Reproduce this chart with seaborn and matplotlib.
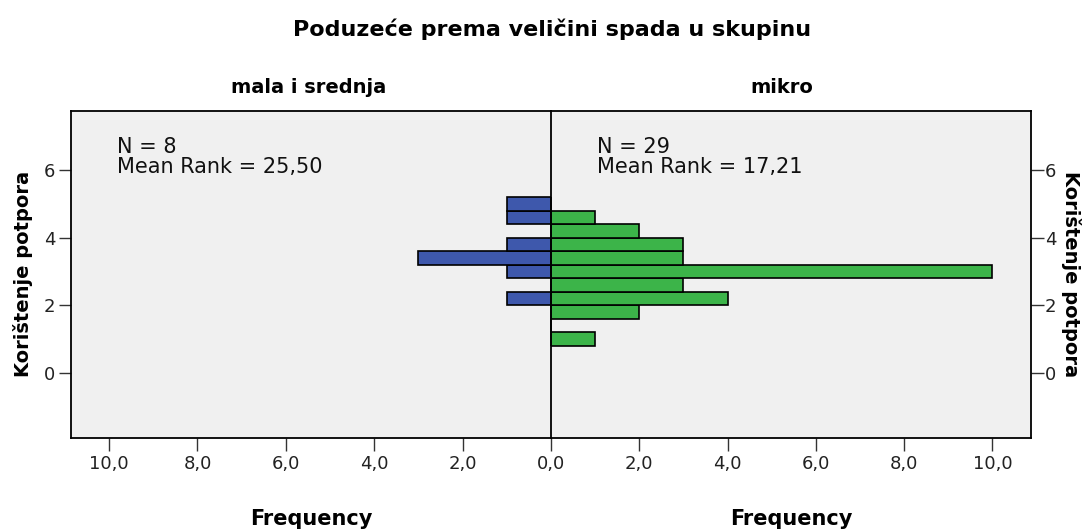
import numpy as np
import pandas as pd
import matplotlib
matplotlib.use("Agg")
import matplotlib.pyplot as plt
import seaborn as sns

# ---- data ----
bin_edges = [0.8, 1.2, 1.6, 2.0, 2.4, 2.8, 3.2, 3.6, 4.0, 4.4, 4.8, 5.2]
bin_centers = [1.0, 1.4, 1.8, 2.2, 2.6, 3.0, 3.4, 3.8, 4.2, 4.6, 5.0]
mala_counts = [0, 0, 0, 1, 0, 1, 3, 1, 0, 1, 1]
mikro_counts = [1, 0, 2, 4, 3, 10, 3, 3, 2, 1, 0]
group_names = ["mala i srednja", "mikro"]
group_stats = ["N = 8\nMean Rank = 25,50", "N = 29\nMean Rank = 17,21"]
x_ticks = [0, 2, 4, 6, 8, 10]
x_ticklabels = ["0,0", "2,0", "4,0", "6,0", "8,0", "10,0"]
y_ticks = [0, 2, 4, 6]
title = "Poduzeće prema veličini spada u skupinu"
y_label = "Korištenje potpora"
x_label = "Frequency"

BLUE = "#3E58AC"
GREEN = "#3CB449"
BG = "#F0F0F0"

sns.set_style("white")
plt.rcParams["font.family"] = ["DejaVu Sans"]
plt.rcParams["xtick.bottom"] = True
plt.rcParams["ytick.left"] = True
plt.rcParams["text.color"] = "black"
plt.rcParams["axes.labelcolor"] = "black"

df_l = pd.DataFrame({"val": bin_centers, "n": mala_counts})
df_r = pd.DataFrame({"val": bin_centers, "n": mikro_counts})

fig = plt.figure(figsize=(10.84, 5.31), dpi=100)
ax_l = fig.add_axes([0.0652, 0.176, 0.4431, 0.615])
ax_r = fig.add_axes([0.5083, 0.176, 0.4427, 0.615], sharey=ax_l)

for ax, df, col in [(ax_l, df_l, BLUE), (ax_r, df_r, GREEN)]:
    sns.histplot(data=df, y="val", weights="n", bins=bin_edges, ax=ax,
                 color=col, alpha=1, edgecolor="black", linewidth=1.2)
    ax.set_facecolor(BG)
    for s in ax.spines.values():
        s.set_color("black")
        s.set_linewidth(1.3)
    ax.tick_params(axis="both", direction="out", length=9, width=1.0,
                   color="#333333", labelsize=13, labelcolor="#222222",
                   bottom=True)
    ax.set_xlabel(x_label, fontsize=15, fontweight="bold", labelpad=26,
                  color="black")

ax_l.set_xlim(10.87, 0)
ax_r.set_xlim(0, 10.87)
ax_l.set_ylim(-1.92, 7.75)

ax_l.set_xticks(x_ticks[1:])
ax_l.set_xticklabels(x_ticklabels[1:])
ax_r.set_xticks(x_ticks)
ax_r.set_xticklabels(x_ticklabels)

ax_l.set_yticks(y_ticks)
ax_l.tick_params(axis="y", left=True, right=False, pad=2)
ax_l.spines["right"].set_visible(False)
ax_l.set_ylabel(y_label, fontsize=14, fontweight="bold", labelpad=8,
                color="black")

ax_r.yaxis.tick_right()
ax_r.yaxis.set_label_position("right")
ax_r.tick_params(axis="y", left=False, right=True, labelright=True,
                 labelleft=False, pad=1)
ax_r.set_ylabel(y_label, fontsize=14, fontweight="bold", color="black",
                rotation=270, labelpad=18)

for ax, name, stats, tx in [(ax_l, group_names[0], group_stats[0], 0.496),
                            (ax_r, group_names[1], group_stats[1], 0.481)]:
    ax.set_title(name, fontsize=14, fontweight="bold", pad=13, x=tx,
                 color="black")
    ax.text(0.096, 0.92, stats, transform=ax.transAxes,
            ha="left", va="top", fontsize=15, color="#111111",
            linespacing=1.0)

fig.text(0.509, 0.944, title, ha="center", va="center", fontsize=16,
         fontweight="bold", color="black")

fig.savefig("out.png", dpi=100, facecolor="white")
